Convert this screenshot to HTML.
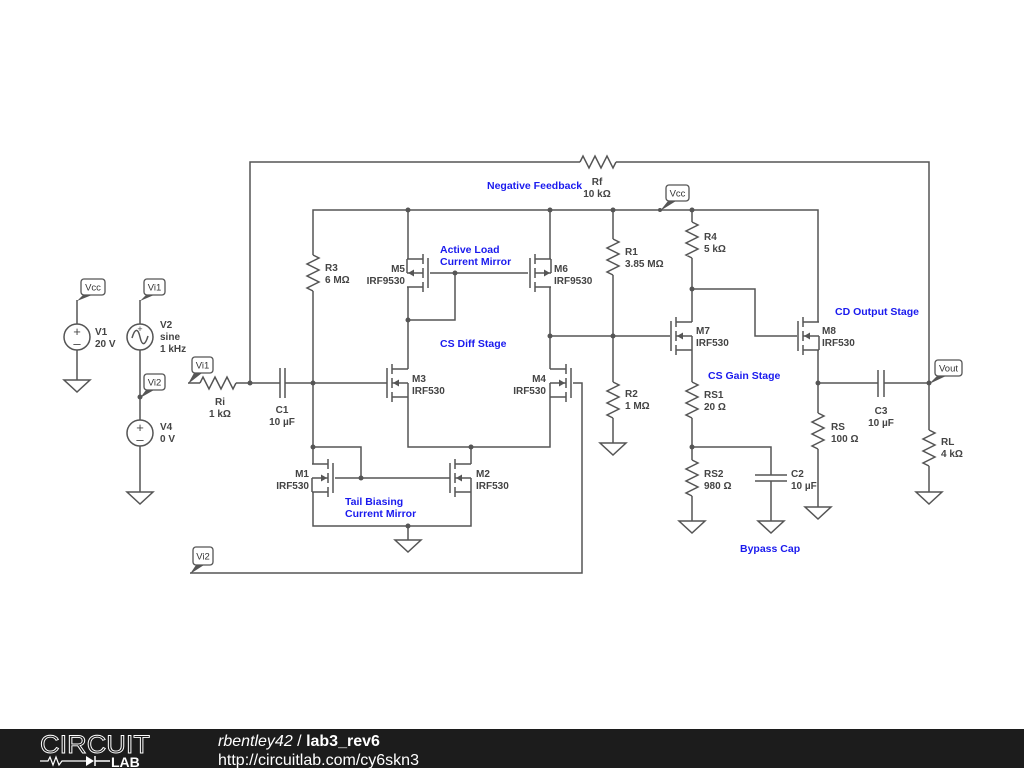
<!DOCTYPE html>
<html><head><meta charset="utf-8"><style>
html,body{margin:0;padding:0;background:#fff;width:1024px;height:768px;overflow:hidden}
svg{display:block}
.w{fill:none;stroke:#555;stroke-width:1.5}
.t{font-family:"Liberation Sans",sans-serif;font-size:10px;font-weight:bold;fill:#444}
.b{font-family:"Liberation Sans",sans-serif;font-size:10.5px;font-weight:bold;fill:#1a1aee}
.f{font-family:"Liberation Sans",sans-serif;font-size:9.5px;fill:#333}
</style></head><body>
<svg width="1024" height="768" viewBox="0 0 1024 768" xmlns="http://www.w3.org/2000/svg">
<defs>
<g id="res"><path class="w" d="M0,0 L6,3 L-6,9 L6,15 L-6,21 L6,27 L-6,33 L0,36"/></g>
<g id="gnd"><path class="w" d="M-13,0 L13,0 L0,12 Z"/></g>
<g id="nm"><path class="w" d="M0,-19V-9M0,-5V5M0,9V19M-5,-15V15M0,-14H16M0,14H16M0,0H16M16,0V14"/><path d="M1,0 L7,-3.5 L7,3.5Z" fill="#555"/></g>
<g id="pm"><path class="w" d="M0,-19V-9M0,-5V5M0,9V19M-5,-15V15M0,-14H16M0,14H16M0,0H16M16,0V-14"/><path d="M15,0 L9,-3.5 L9,3.5Z" fill="#555"/></g>
</defs>

<path class="w" d="M250,383V162H580M616,162H929V430"/>
<path class="w" d="M188,383H200M236,383H280M285,383H387"/>
<path class="w" d="M280,368V398M285,368V398"/>
<path class="w" d="M313,255V210H818V322"/>
<path class="w" d="M313,291V464M313,447H361V478M335,478H450"/>
<path class="w" d="M313,492V526H471V492M408,526V540"/>
<path class="w" d="M471,464V447M408,397V447H550V397"/>
<path class="w" d="M408,369V320M408,210V259M408,287V320H455V273M430,273H528"/>
<path class="w" d="M550,210V259M550,287V369M550,336H670"/>
<path class="w" d="M573,383H582V573H190"/>
<path class="w" d="M613,210V239M613,275V382M613,418V443"/>
<path class="w" d="M692,210V222M692,258V322M692,289H755V336H797"/>
<path class="w" d="M692,350V382M692,418V460M692,447H771V475M755,475H787M755,481H787M771,481V521M692,496V521"/>
<path class="w" d="M818,350V413M818,449V507M818,383H878M878,370V397M884,370V397M884,383H929M929,466V492"/>
<path class="w" d="M77,300V324M77,350V380M140,300V324M140,350V420M140,446V492"/>
<circle class="w" cx="77" cy="337" r="13"/>
<circle class="w" cx="140" cy="337" r="13"/>
<circle class="w" cx="140" cy="433" r="13"/>
<text class="t" x="77" y="336" text-anchor="middle" style="font-size:13px;font-weight:normal">+</text>
<text class="t" x="77" y="348" text-anchor="middle" style="font-size:13px;font-weight:normal">–</text>
<text class="t" x="140" y="432" text-anchor="middle" style="font-size:13px;font-weight:normal">+</text>
<text class="t" x="140" y="444" text-anchor="middle" style="font-size:13px;font-weight:normal">–</text>
<path class="w" d="M132,338 C135,328 138,328 140,337 C142,346 145,346 148,336"/>
<text class="t" x="140" y="332" text-anchor="middle" style="font-size:9px;font-weight:normal">+</text>

<use href="#res" x="313" y="255"/><use href="#res" x="613" y="239"/><use href="#res" x="613" y="382"/>
<use href="#res" x="692" y="222"/><use href="#res" x="692" y="382"/><use href="#res" x="692" y="460"/>
<use href="#res" x="818" y="413"/><use href="#res" x="929" y="430"/>
<use href="#res" transform="translate(580,162) rotate(-90)"/>
<use href="#res" transform="translate(200,383) rotate(-90)"/>

<use href="#gnd" x="77" y="380"/><use href="#gnd" x="140" y="492"/><use href="#gnd" x="408" y="540"/>
<use href="#gnd" x="613" y="443"/><use href="#gnd" x="692" y="521"/><use href="#gnd" x="771" y="521"/>
<use href="#gnd" x="818" y="507"/><use href="#gnd" x="929" y="492"/>

<use href="#nm" x="392" y="383"/>
<use href="#nm" transform="translate(566,383) scale(-1,1)"/>
<use href="#pm" transform="translate(423,273) scale(-1,1)"/>
<use href="#pm" x="535" y="273"/>
<use href="#nm" transform="translate(328,478) scale(-1,1)"/>
<use href="#nm" x="455" y="478"/>
<use href="#nm" x="676" y="336"/>
<use href="#nm" x="803" y="336"/>

<g fill="#555">
<circle cx="250" cy="383" r="2.5"/><circle cx="313" cy="383" r="2.5"/><circle cx="408" cy="210" r="2.5"/>
<circle cx="550" cy="210" r="2.5"/><circle cx="613" cy="210" r="2.5"/><circle cx="692" cy="210" r="2.5"/>
<circle cx="408" cy="320" r="2.5"/><circle cx="455" cy="273" r="2.5"/><circle cx="550" cy="336" r="2.5"/>
<circle cx="613" cy="336" r="2.5"/><circle cx="313" cy="447" r="2.5"/><circle cx="361" cy="478" r="2.5"/>
<circle cx="471" cy="447" r="2.5"/><circle cx="408" cy="526" r="2.5"/><circle cx="692" cy="289" r="2.5"/>
<circle cx="692" cy="447" r="2.5"/><circle cx="818" cy="383" r="2.5"/><circle cx="929" cy="383" r="2.5"/>
<circle cx="140" cy="397" r="2.5"/><circle cx="660" cy="210" r="2"/>
</g>

<g>
<path d="M660,211 L668,201 L676,201Z" fill="#555"/><rect x="666" y="185" width="23" height="16" rx="3" fill="#fff" stroke="#555" stroke-width="1.3"/><text class="f" x="677.5" y="196.5" text-anchor="middle">Vcc</text>
<path d="M929,384 L937,376 L946,376Z" fill="#555"/><rect x="935" y="360" width="27" height="16" rx="3" fill="#fff" stroke="#555" stroke-width="1.3"/><text class="f" x="948.5" y="371.5" text-anchor="middle">Vout</text>
<path d="M77,301 L83,295 L92,295Z" fill="#555"/><rect x="81" y="279" width="24" height="16" rx="3" fill="#fff" stroke="#555" stroke-width="1.3"/><text class="f" x="93" y="290.5" text-anchor="middle">Vcc</text>
<path d="M140,301 L146,295 L154,295Z" fill="#555"/><rect x="144" y="279" width="21" height="16" rx="3" fill="#fff" stroke="#555" stroke-width="1.3"/><text class="f" x="154.5" y="290.5" text-anchor="middle">Vi1</text>
<path d="M140,398 L146,390 L154,390Z" fill="#555"/><rect x="144" y="374" width="21" height="16" rx="3" fill="#fff" stroke="#555" stroke-width="1.3"/><text class="f" x="154.5" y="385.5" text-anchor="middle">Vi2</text>
<path d="M188,384 L194,373 L202,373Z" fill="#555"/><rect x="192" y="357" width="21" height="16" rx="3" fill="#fff" stroke="#555" stroke-width="1.3"/><text class="f" x="202.5" y="368.5" text-anchor="middle">Vi1</text>
<path d="M190,574 L196,565 L204,565Z" fill="#555"/><rect x="193" y="547" width="20" height="18" rx="3" fill="#fff" stroke="#555" stroke-width="1.3"/><text class="f" x="203" y="559.5" text-anchor="middle">Vi2</text>
</g>

<g class="t">
<text x="95" y="335">V1</text><text x="95" y="347">20 V</text>
<text x="160" y="328">V2</text><text x="160" y="340">sine</text><text x="160" y="352">1 kHz</text>
<text x="160" y="430">V4</text><text x="160" y="442">0 V</text>
<text x="220" y="405" text-anchor="middle">Ri</text><text x="220" y="417" text-anchor="middle">1 kΩ</text>
<text x="282" y="413" text-anchor="middle">C1</text><text x="282" y="425" text-anchor="middle">10 µF</text>
<text x="325" y="271">R3</text><text x="325" y="283">6 MΩ</text>
<text x="405" y="272" text-anchor="end">M5</text><text x="405" y="284" text-anchor="end">IRF9530</text>
<text x="554" y="272">M6</text><text x="554" y="284">IRF9530</text>
<text x="412" y="382">M3</text><text x="412" y="394">IRF530</text>
<text x="546" y="382" text-anchor="end">M4</text><text x="546" y="394" text-anchor="end">IRF530</text>
<text x="309" y="477" text-anchor="end">M1</text><text x="309" y="489" text-anchor="end">IRF530</text>
<text x="476" y="477">M2</text><text x="476" y="489">IRF530</text>
<text x="597" y="185" text-anchor="middle">Rf</text><text x="597" y="197" text-anchor="middle">10 kΩ</text>
<text x="625" y="255">R1</text><text x="625" y="267">3.85 MΩ</text>
<text x="625" y="397">R2</text><text x="625" y="409">1 MΩ</text>
<text x="704" y="240">R4</text><text x="704" y="252">5 kΩ</text>
<text x="696" y="334">M7</text><text x="696" y="346">IRF530</text>
<text x="822" y="334">M8</text><text x="822" y="346">IRF530</text>
<text x="704" y="398">RS1</text><text x="704" y="410">20 Ω</text>
<text x="704" y="477">RS2</text><text x="704" y="489">980 Ω</text>
<text x="791" y="477">C2</text><text x="791" y="489">10 µF</text>
<text x="831" y="430">RS</text><text x="831" y="442">100 Ω</text>
<text x="881" y="414" text-anchor="middle">C3</text><text x="881" y="426" text-anchor="middle">10 µF</text>
<text x="941" y="445">RL</text><text x="941" y="457">4 kΩ</text>
</g>
<g class="b">
<text x="487" y="189">Negative Feedback</text>
<text x="440" y="253">Active Load</text><text x="440" y="265">Current Mirror</text>
<text x="440" y="347">CS Diff Stage</text>
<text x="345" y="505">Tail Biasing</text><text x="345" y="517">Current Mirror</text>
<text x="708" y="379">CS Gain Stage</text>
<text x="835" y="315">CD Output Stage</text>
<text x="740" y="552">Bypass Cap</text>
</g>

<rect x="0" y="729" width="1024" height="39" fill="#1c1c1c"/>
<text x="40" y="753" style="font-family:'Liberation Sans',sans-serif;font-size:25px;fill:none;stroke:#fff;stroke-width:0.9" textLength="110" lengthAdjust="spacingAndGlyphs">CIRCUIT</text>
<path d="M40,761 H48 L50,757 L53,765 L56,757 L59,765 L62,761 H86" stroke="#fff" stroke-width="1.2" fill="none"/>
<path d="M86,756 L94,761 L86,766Z" fill="#fff"/><path d="M95,756V766M95,761H110" stroke="#fff" stroke-width="1.5"/>
<text x="111" y="767" style="font-family:'Liberation Sans',sans-serif;font-size:14px;font-weight:bold;fill:#fff">LAB</text>
<text x="218" y="746" style="font-family:'Liberation Sans',sans-serif;font-size:16px;fill:#fff"><tspan font-style="italic">rbentley42</tspan> / <tspan font-weight="bold">lab3_rev6</tspan></text>
<text x="218" y="765" style="font-family:'Liberation Sans',sans-serif;font-size:16px;fill:#fff">http://circuitlab.com/cy6skn3</text>
</svg>
</body></html>
